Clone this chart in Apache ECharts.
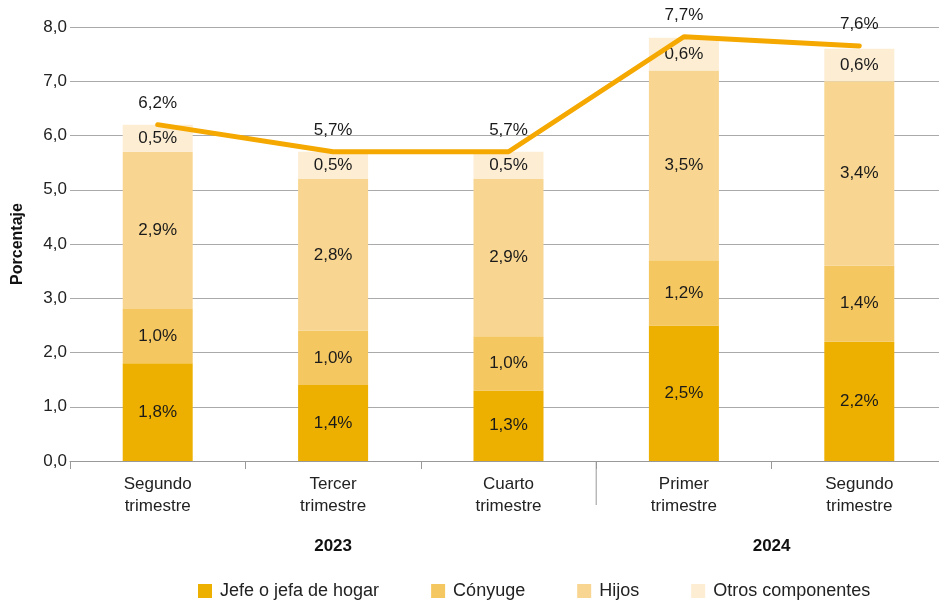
<!DOCTYPE html>
<html>
<head>
<meta charset="utf-8">
<script src="https://cdn.jsdelivr.net/npm/echarts@6/dist/echarts.min.js"></script>
<style>
html,body{margin:0;padding:0;background:#fff;}
#c{width:939px;height:601px;}
</style>
</head>
<body>
<div id="c"></div>
<script>
var categories = ['Segundo\ntrimestre', 'Tercer\ntrimestre', 'Cuarto\ntrimestre', 'Primer\ntrimestre', 'Segundo\ntrimestre'];
var years = ['2023', '2024'];
var jefe = [1.8, 1.4, 1.3, 2.5, 2.2];
var conyuge = [1.0, 1.0, 1.0, 1.2, 1.4];
var hijos = [2.9, 2.8, 2.9, 3.5, 3.4];
var otros = [0.5, 0.5, 0.5, 0.6, 0.6];
var total = [6.2, 5.7, 5.7, 7.82, 7.65];
var totalLabels = ['6,2%', '5,7%', '5,7%', '7,7%', '7,6%'];
var yTicks = [0, 1, 2, 3, 4, 5, 6, 7, 8];

var FONT = 'Liberation Sans';
var FS = 17;
function pct(v) { return v.toFixed(1).replace('.', ',') + '%'; }

function barSeries(name, data, color) {
  return {
    name: name, type: 'bar', stack: 'a', data: data, barWidth: 70,
    itemStyle: { color: color },
    label: { show: true, position: 'inside', color: '#1a1a1a', fontFamily: FONT, fontSize: FS,
      formatter: function (p) { return pct(p.value); } }
  };
}

var chart = echarts.init(document.getElementById('c'), null, { renderer: 'canvas' });
var option = {
  animation: false,
  textStyle: { fontFamily: FONT },
  grid: { left: 70, width: 877, top: 27, bottom: 140, containLabel: false, outerBoundsMode: 'none' },
  legend: {
    data: ['Jefe o jefa de hogar', 'Cónyuge', 'Hijos', 'Otros componentes'],
    left: 193, top: 577, itemWidth: 14, itemHeight: 14, itemGap: 52,
    icon: 'rect',
    textStyle: { fontFamily: FONT, fontSize: 18, color: '#222', padding: [0, 0, 0, 3] }
  },
  xAxis: {
    type: 'category', data: categories,
    axisLine: { lineStyle: { color: '#999', width: 1 } },
    axisTick: { show: true, length: 8, lineStyle: { color: '#999' } },
    axisLabel: { color: '#222', fontSize: FS, fontFamily: FONT, lineHeight: 22, margin: 12 }
  },
  yAxis: {
    type: 'value', min: yTicks[0], max: yTicks[yTicks.length - 1], interval: 1,
    name: 'Porcentaje', nameLocation: 'middle', nameGap: 44,
    nameTextStyle: { fontWeight: 'bold', fontSize: 16, color: '#111', fontFamily: FONT },
    axisLine: { show: false }, axisTick: { show: false },
    axisLabel: { color: '#222', fontSize: FS, fontFamily: FONT, margin: 3,
      formatter: function (v) { return v.toFixed(1).replace('.', ','); } },
    splitLine: { lineStyle: { color: '#aaa', width: 1 } }
  },
  series: [
    barSeries('Jefe o jefa de hogar', jefe, '#EDB000'),
    barSeries('Cónyuge', conyuge, '#F5C761'),
    barSeries('Hijos', hijos, '#F8D691'),
    barSeries('Otros componentes', otros, '#FCEDD3'),
    {
      name: 'Total', type: 'line', data: total, symbol: 'circle', symbolSize: 0, showSymbol: true, z: 10,
      lineStyle: { color: '#F5A800', width: 5, cap: 'round', join: 'round' },
      itemStyle: { color: '#F5A800' },
      label: { show: true, position: 'top', distance: 13, color: '#1a1a1a', fontSize: FS, fontFamily: FONT,
        formatter: function (p) { return totalLabels[p.dataIndex]; } }
    }
  ]
};
chart.setOption(option);

var p1 = chart.convertToPixel({ xAxisIndex: 0 }, 1);
var p2 = chart.convertToPixel({ xAxisIndex: 0 }, 2);
var p3 = chart.convertToPixel({ xAxisIndex: 0 }, 3);
var p4 = chart.convertToPixel({ xAxisIndex: 0 }, 4);
var y0 = chart.convertToPixel({ yAxisIndex: 0 }, 0);
var sepX = (p2 + p3) / 2;
chart.setOption({
  graphic: [
    { type: 'line', shape: { x1: sepX, y1: y0, x2: sepX, y2: y0 + 44 }, style: { stroke: '#999', lineWidth: 1 } },
    { type: 'text', x: p1, y: y0 + 85, style: { text: years[0], fontFamily: FONT, fontSize: FS, fontWeight: 'bold', fill: '#111', align: 'center', verticalAlign: 'middle' } },
    { type: 'text', x: (p3 + p4) / 2, y: y0 + 85, style: { text: years[1], fontFamily: FONT, fontSize: FS, fontWeight: 'bold', fill: '#111', align: 'center', verticalAlign: 'middle' } }
  ]
});
</script>
</body>
</html>
